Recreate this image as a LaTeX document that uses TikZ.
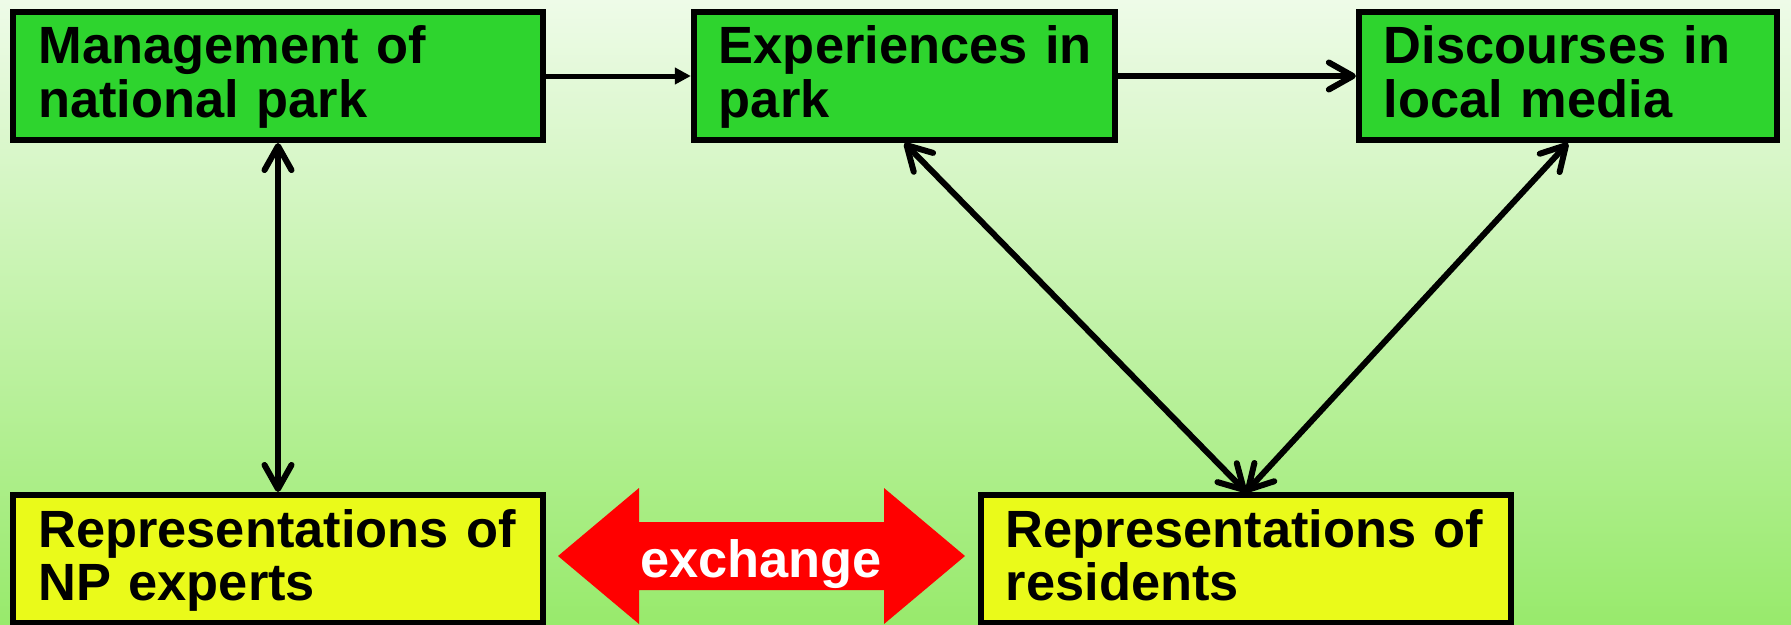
\documentclass[tikz,border=0pt]{standalone}
\usepackage{fontspec}
\setmainfont{Liberation Sans}
\usetikzlibrary{arrows.meta}
\usetikzlibrary{positioning}

\definecolor{boxgreen}{RGB}{46,212,46}
\definecolor{boxyellow}{RGB}{234,250,26}
\definecolor{bgtop}{RGB}{238,251,232}
\definecolor{bgbottom}{RGB}{152,234,108}

\begin{document}
\begin{tikzpicture}[x=0.01cm, y=-0.01cm, every node/.style={font=\fontsize{14.9pt}{15.2pt}\selectfont\bfseries},
 link/.style={line width=0.06cm}, both/.style={link, {Straight Barb[round,length=0.24cm,width=0.27cm]}-{Straight Barb[round,length=0.24cm,width=0.27cm]}}
]
 \tikzstyle{box}=[draw, line width=0.06cm, align=left, inner xsep=0.25cm, text height=0.38cm, text depth=0.62cm, minimum height=1.28cm];
 \tikzstyle{gbox}=[box, fill=boxgreen];
 \tikzstyle{ybox}=[box, fill=boxyellow];
\shade[top color=bgtop, bottom color=bgbottom] (0,0) rectangle (1791,624);
\useasboundingbox (0,0) rectangle (1791,624);

\node[gbox, text width=4.79cm] (mgmt) at (278,76) {Management~of\\national~park};
\node[gbox, text width=3.71cm] (exper) at (904.5,76) {Experiences~in\\park};
\node[gbox, text width=3.68cm] (disc) at (1568,76) {Discourses~in\\local~media};
\node[ybox, text width=4.79cm] (npexp) at (278,559) {Representations~of\\NP~experts};
\node[ybox, text width=4.80cm] (resid) at (1246,559) {Representations~of\\residents};

% exchange arrow
\fill[red] (558,556) -- (639,488) -- (639,522) -- (884,522) -- (884,488) -- (965,556)
 -- (884,624) -- (884,590) -- (639,590) -- (639,624) -- cycle;
\node[text=white, anchor=base] (xchg) at (761,577) {exchange};

\draw[link, line width=0.05cm, -{Triangle[length=0.16cm,width=0.16cm]}] (mgmt) -- (exper);
\draw[link, -{Straight Barb[round,length=0.24cm,width=0.27cm]}] (exper) -- (disc);
\draw[both] (mgmt) -- (npexp);
\draw[both] (exper.south) -- (resid.north);
\draw[both] (disc.south) -- (resid.north);

\end{tikzpicture}
\end{document}
